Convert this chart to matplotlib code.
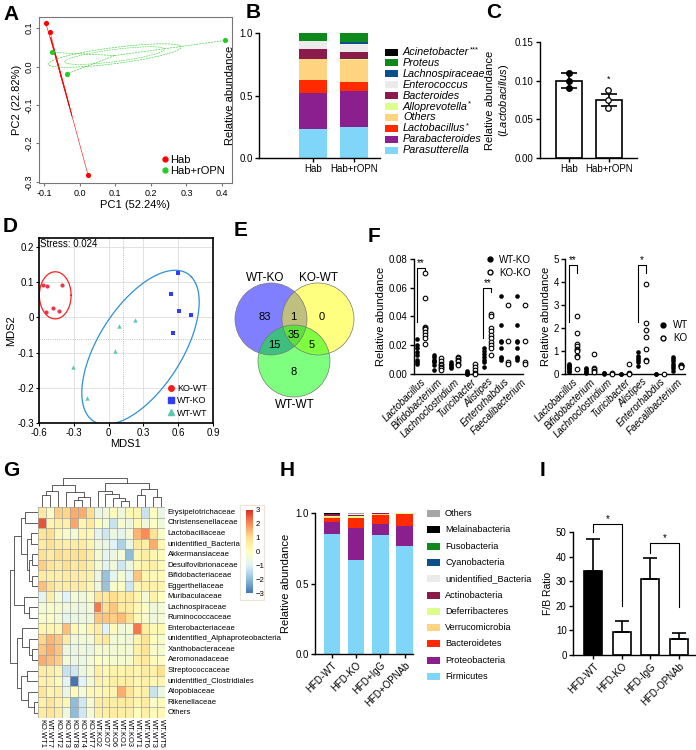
import numpy as np
import matplotlib
matplotlib.use("Agg")
import matplotlib.pyplot as plt
from matplotlib.patches import Circle, Rectangle
from matplotlib.lines import Line2D
from matplotlib.colors import LinearSegmentedColormap
from matplotlib.cm import ScalarMappable
from matplotlib.colors import Normalize

plt.rcParams['font.family'] = ['Liberation Sans', 'DejaVu Sans']
plt.rcParams['mathtext.fontset'] = 'custom'
plt.rcParams['mathtext.it'] = 'Liberation Sans:italic'
plt.rcParams['mathtext.rm'] = 'Liberation Sans'
plt.rcParams['font.size'] = 7

# ---------------- data ----------------
# A: PCoA
a_hab_x = [-0.095, -0.083, 0.024]
a_hab_y = [0.113, 0.090, -0.283]
a_ropn_x = [-0.078, -0.036, 0.409]
a_ropn_y = [0.037, -0.019, 0.068]

# B: genus composition (stack order bottom -> top)
b_groups = ['Hab', 'Hab+rOPN']
b_taxa = ['Parasutterella', 'Parabacteroides', 'Lactobacillus', 'Others', 'Alloprevotella',
          'Bacteroides', 'Enterococcus', 'Lachnospiraceae', 'Proteus', 'Acinetobacter']
b_stars = ['', '', '*', '', '*', '', '', '', '', '***']
b_hab = [0.230, 0.290, 0.105, 0.168, 0.002, 0.080, 0.060, 0.005, 0.058, 0.002]
b_ropn = [0.245, 0.290, 0.075, 0.178, 0.002, 0.060, 0.065, 0.010, 0.073, 0.002]
b_colors = ['#7fd6f8', '#8c1f8e', '#ff2a00', '#ffd480', '#dcff8c',
            '#8a1b4b', '#ebebeb', '#0b4f8c', '#0e8a1c', '#000000']

# C: Lactobacillus
c_groups = ['Hab', 'Hab+rOPN']
c_hab_pts = [0.110, 0.100, 0.091]
c_ropn_pts = [0.088, 0.075, 0.065]
c_means = [0.100, 0.075]
c_err = [0.010, 0.0076]

# D: NMDS
d_kowt_x = [-0.568, -0.534, -0.404, -0.482, -0.542, -0.425]
d_kowt_y = [0.093, 0.089, 0.093, 0.027, 0.015, 0.019]
d_wtko_x = [0.595, 0.540, 0.609, 0.710, 0.555]
d_wtko_y = [0.127, 0.066, 0.018, 0.006, -0.045]
d_wtwt_x = [0.090, 0.228, 0.055, -0.310, -0.184]
d_wtwt_y = [-0.024, -0.006, -0.094, -0.142, -0.230]

# E: Venn counts
e_sets = ['WT-KO', 'KO-WT', 'WT-WT']
e_counts = {'100': 83, '110': 1, '010': 0, '111': 35, '101': 15, '011': 5, '001': 8}

# F: genera
f_genera = ['Lactobacillus', 'Bifidobacterium', 'Lachnoclostridium', 'Turicibacter',
            'Alistipes', 'Enterorhabdus', 'Faecalibacterium']
f1_wtko = [[0.024, 0.020, 0.018, 0.015, 0.013, 0.010, 0.008, 0.007],
           [0.013, 0.012, 0.010, 0.009, 0.008, 0.006, 0.003],
           [0.008, 0.007, 0.006, 0.005, 0.004],
           [0.002, 0.001, 0.0005, 0.0002, 0.0],
           [0.018, 0.016, 0.014, 0.012, 0.010, 0.008, 0.005],
           [0.054, 0.034, 0.023, 0.022, 0.018, 0.012, 0.011, 0.010],
           [0.054, 0.034, 0.023, 0.022, 0.018, 0.012, 0.011, 0.010]]
f1_koko = [[0.070, 0.053, 0.033, 0.032, 0.031, 0.029, 0.027, 0.025, 0.021],
           [0.011, 0.009, 0.007, 0.006, 0.005, 0.004, 0.003],
           [0.012, 0.011, 0.010, 0.009, 0.007, 0.006],
           [0.007, 0.005, 0.003, 0.001, 0.0],
           [0.042, 0.040, 0.032, 0.030, 0.027, 0.025, 0.022, 0.020, 0.018, 0.013],
           [0.048, 0.023, 0.008, 0.007],
           [0.048, 0.023, 0.008, 0.007]]
f2_wt = [[0.45, 0.40, 0.35, 0.30, 0.25, 0.20, 0.15, 0.10],
         [0.25, 0.20, 0.15, 0.10, 0.05],
         [0.05, 0.03, 0.02],
         [0.02, 0.01],
         [0.95, 0.80, 0.70, 0.60, 0.50, 0.35],
         [0.02, 0.01],
         [0.75, 0.65, 0.55, 0.45, 0.35, 0.25, 0.15]]
f2_ko = [[2.50, 1.80, 1.30, 1.20, 1.10, 1.05, 1.00, 0.80, 0.75, 0.20],
         [0.85, 0.25, 0.20, 0.15, 0.10],
         [0.03, 0.02],
         [0.45, 0.05, 0.02],
         [3.90, 2.20, 1.90, 1.60, 1.10, 0.60, 0.55],
         [0.02],
         [0.40, 0.38, 0.35, 0.33, 0.30]]

# G: heatmap (z-scores)
g_rows = ['Erysipelotrichaceae', 'Christensenellaceae', 'Lactobacillaceae', 'unidentified_Bacteria',
          'Akkermansiaceae', 'Desulfovibrionaceae', 'Bifidobacteriaceae', 'Eggerthellaceae',
          'Muribaculaceae', 'Lachnospiraceae', 'Ruminococcaceae', 'Enterobacteriaceae',
          'unidentified_Alphaproteobacteria', 'Xanthobacteraceae', 'Aeromonadaceae',
          'Streptococcaceae', 'unidentified_Clostridiales', 'Atopobiaceae', 'Rikenellaceae', 'Others']
g_cols = ['KO.WT1', 'WT.WT7', 'KO.WT2', 'KO.WT3', 'KO.WT8', 'KO.WT4', 'KO.WT7', 'WT.KO2',
          'WT.KO7', 'WT.KO6', 'WT.KO1', 'WT.KO3', 'WT.WT1', 'WT.WT6', 'WT.WT3', 'WT.WT5']
g_vals = [
    [0.7, -0.2, 1.2, 1.1, 1.6, 1.6, 1.0, -0.6, -0.5, 0.1, -0.5, 0.2, 0.3, -1.3, 0.0, -0.7],
    [2.6, 0.3, 0.5, 0.4, 1.7, 0.3, 0.7, 0.0, -0.4, -1.3, -0.3, -0.6, 0.2, -0.5, -0.1, -0.5],
    [0.8, 1.0, 0.2, -0.2, -0.4, 0.3, 0.2, -0.8, -1.2, -0.6, -0.8, -0.4, 1.5, 2.0, 0.8, -0.2],
    [0.6, 0.9, 0.6, 0.5, 0.6, 0.6, 0.3, -0.5, -0.6, -1.0, -1.6, -0.7, 0.7, 0.5, 1.6, 0.2],
    [0.9, 0.6, 1.0, 0.8, 0.9, 0.9, 0.6, -0.3, -0.8, -0.6, -0.4, -2.0, 0.3, 0.5, 0.3, 0.1],
    [1.2, 0.8, 0.6, 0.9, 0.7, 0.8, 0.5, -0.3, -0.8, -0.5, -1.2, -0.6, 0.2, 0.4, 0.5, 0.1],
    [0.6, 0.5, 0.5, 0.6, 0.6, 0.5, 0.4, -0.6, -1.9, -0.8, -0.3, -0.9, 1.3, 0.3, 0.2, 0.1],
    [1.4, 0.9, 0.5, 0.6, 0.6, 0.6, 0.3, -0.5, -1.9, -0.2, -0.1, -1.2, 0.3, 0.4, 0.4, 0.3],
    [-0.8, 0.5, -0.4, -1.0, -0.4, -0.5, -0.2, 0.8, 0.7, 1.0, 0.6, 0.7, 0.3, -0.4, 0.4, 0.0],
    [-0.4, -0.2, -0.3, -0.5, -0.5, -0.6, -0.4, 2.2, 0.9, 1.3, 0.6, 0.6, 0.2, -0.1, -0.5, -0.4],
    [-0.2, -0.1, -0.4, -0.8, -0.6, -0.6, -0.5, 1.3, 1.3, 1.2, 1.4, 0.9, 0.2, -0.2, -0.5, -0.4],
    [0.3, 0.3, 0.3, 1.4, 0.2, -0.2, 0.3, 0.6, -1.0, 0.1, -0.5, -0.4, 2.2, 0.5, 0.2, 0.2],
    [1.1, 1.5, 1.3, 0.6, -0.5, -0.4, -0.4, 0.5, 0.7, -0.4, -0.4, -0.5, 0.3, 0.8, 0.0, -0.2],
    [1.3, 1.6, 1.3, -0.5, -0.7, -0.5, -0.7, -0.2, -0.3, -0.4, -0.3, -0.4, 0.4, 0.8, -0.2, -0.3],
    [1.6, 1.4, 1.2, -0.4, -0.6, -0.6, -0.4, 0.0, -0.2, -0.3, -0.3, -0.3, 0.4, 0.7, 0.1, -0.1],
    [0.6, 0.5, 0.3, -1.3, -1.2, -0.6, -0.3, 0.5, 0.2, 0.4, 0.3, 0.4, 0.3, 0.6, 0.4, 0.9],
    [0.4, 0.4, 0.1, -0.8, -3.0, -1.0, -0.4, 0.4, 0.3, 0.5, 0.5, 0.5, 0.3, 0.4, 0.2, 0.3],
    [0.8, 0.3, 0.5, -0.7, 0.1, -0.4, 0.2, 0.2, 0.3, 0.3, 1.6, 0.8, 0.3, 0.5, -1.3, -0.6],
    [0.4, 0.8, 0.4, 0.2, -2.0, -1.2, -0.3, 0.6, 0.6, 0.5, 0.6, 0.6, 0.3, 0.6, -0.2, 0.1],
    [0.6, 0.8, 0.6, -0.5, -2.0, -1.2, -0.4, 0.5, 0.5, 0.6, 0.5, 0.5, 0.0, 0.5, 0.1, 0.2],
]
# dendrograms: (left, right, height), leaves = row/column index
g_row_tree = ((((0, 1, 0.45), ((2, 3, 0.25), ((4, 5, 0.2), (6, 7, 0.2), 0.3), 0.4), 0.6),
               (8, (9, 10, 0.3), 0.5), 0.85),
              ((11, (12, (13, 14, 0.2), 0.3), 0.55),
               ((15, 16, 0.4), (17, (18, 19, 0.15), 0.35), 0.6), 0.75), 1.0)
g_col_tree = ((((0, 1, 0.4), 2, 0.55), (3, ((4, 5, 0.25), 6, 0.35), 0.5), 0.75),
              ((7, (8, (9, (10, 11, 0.2), 0.3), 0.45), 0.55),
               ((12, 13, 0.4), (14, 15, 0.35), 0.6), 0.8), 1.0)

# H: phylum composition (stack order bottom -> top)
h_groups = ['HFD-WT', 'HFD-KO', 'HFD+IgG', 'HFD+OPNAb']
h_taxa = ['Firmicutes', 'Proteobacteria', 'Bacteroidetes', 'Verrucomicrobia', 'Deferribacteres',
          'Actinobacteria', 'unidentified_Bacteria', 'Cyanobacteria', 'Fusobacteria',
          'Melainabacteria', 'Others']
h_vals = [[0.851, 0.669, 0.846, 0.768],
          [0.085, 0.225, 0.078, 0.137],
          [0.029, 0.071, 0.064, 0.088],
          [0.005, 0.003, 0.002, 0.003],
          [0.008, 0.012, 0.002, 0.001],
          [0.014, 0.008, 0.005, 0.001],
          [0.002, 0.004, 0.001, 0.000],
          [0.001, 0.002, 0.000, 0.000],
          [0.001, 0.001, 0.000, 0.000],
          [0.001, 0.001, 0.000, 0.000],
          [0.003, 0.004, 0.002, 0.002]]
h_colors = ['#7fd6f8', '#8c1f8e', '#ff2a00', '#ffd480', '#dcff8c', '#8a1b4b',
            '#ebebeb', '#0b4f8c', '#0e8a1c', '#000000', '#a6a6a6']

# I: F/B ratio
i_groups = ['HFD-WT', 'HFD-KO', 'HFD-IgG', 'HFD-OPNAb']
i_means = [34.3, 9.5, 30.7, 6.6]
i_err = [13.0, 4.5, 8.8, 2.3]

# ---------------- figure ----------------
W, H = 696, 750
fig = plt.figure(figsize=(W / 100, H / 100), dpi=100)
renderer = fig.canvas.get_renderer()


def box(x0, y0, x1, y1):
    return fig.add_axes([x0 / W, 1 - y1 / H, (x1 - x0) / W, (y1 - y0) / H])


def letter(x, y, s):
    fig.text(x / W, 1 - y / H, s, fontsize=15, fontweight='bold', va='center', ha='left')


def prism(ax, lw=1.0):
    ax.spines['top'].set_visible(False)
    ax.spines['right'].set_visible(False)
    ax.spines['left'].set_linewidth(lw)
    ax.spines['bottom'].set_linewidth(lw)
    ax.tick_params(width=lw, length=3, labelsize=7, pad=1.5)


def se_ellipse(x, y, scale):
    pts = np.column_stack([x, y])
    c = pts.mean(axis=0)
    cov = np.cov(pts.T) / len(x)
    vals, vecs = np.linalg.eigh(cov)
    t = np.linspace(0, 2 * np.pi, 200)
    circ = np.column_stack([np.cos(t), np.sin(t)]) * np.sqrt(np.maximum(vals, 1e-9)) * scale
    e = circ @ vecs.T + c
    return c, e


def legend_patch(x, y, color, label, fs=6.6, style='normal', stars=''):
    fig.add_artist(Rectangle((x / W, 1 - (y + 3.5) / H), 13 / W, 7 / H,
                             transform=fig.transFigure, facecolor=color, edgecolor='none'))
    t = fig.text((x + 18) / W, 1 - y / H, label, fontsize=fs, va='center', ha='left',
                 fontstyle=style)
    if stars:
        bb = t.get_window_extent(renderer)
        fig.text((bb.x1 + 0.5) / W, 1 - (y - 2.5) / H, stars, fontsize=5.5, va='center', ha='left')


# ---- A ----
axA = box(39, 17, 232, 183)
for xs, ys, col, ls, sc in [(a_hab_x, a_hab_y, '#ff0000', '-', 0.8),
                            (a_ropn_x, a_ropn_y, '#22cc22', '--', 1.2)]:
    c, e = se_ellipse(xs, ys, sc)
    axA.plot(e[:, 0], e[:, 1], color=col, lw=0.4, ls=ls)
    c2, e2 = se_ellipse(xs, ys, sc * 0.75)
    axA.plot(e2[:, 0], e2[:, 1], color=col, lw=0.35, ls=ls)
    for px, py in zip(xs, ys):
        axA.plot([c[0], px], [c[1], py], color=col, lw=0.4, ls=ls)
    axA.scatter(xs, ys, s=14, color=col, zorder=3, linewidths=0)
axA.set_xlim(-0.114, 0.428)
axA.set_ylim(-0.303, 0.129)
axA.set_xticks([-0.1, 0.0, 0.1, 0.2, 0.3, 0.4])
axA.set_xticklabels(['-0.1', '0.0', '0.1', '0.2', '0.3', '0.4'])
axA.set_yticks([-0.3, -0.2, -0.1, 0.0, 0.1])
axA.set_yticklabels(['-0.3', '-0.2', '-0.1', '0.0', '0.1'], rotation=90, va='center')
for s in axA.spines.values():
    s.set_color('#777777')
    s.set_linewidth(0.8)
axA.tick_params(labelsize=6.5, length=2.5, color='#777777', pad=1.5)
axA.set_xlabel('PC1 (52.24%)', fontsize=8, labelpad=2)
axA.set_ylabel('PC2 (22.82%)', fontsize=8, labelpad=2)
axA.legend(handles=[Line2D([], [], marker='o', ls='none', color='#ff0000', markersize=3.5, label='Hab'),
                    Line2D([], [], marker='o', ls='none', color='#22cc22', markersize=3.5, label='Hab+rOPN')],
           loc='lower right', frameon=False, fontsize=8, handletextpad=0.0, handlelength=1.0,
           borderaxespad=0.2, labelspacing=0.1)
letter(3, 14, 'A')

# ---- B ----
axB = box(259, 33, 380, 158)
bottom = np.zeros(2)
for name, col, hv, rv in zip(b_taxa, b_colors, b_hab, b_ropn):
    vals = np.array([hv, rv])
    axB.bar([0, 1], vals, bottom=bottom, width=0.68, color=col, linewidth=0)
    bottom += vals
axB.set_xlim(-1.32, 1.63)
axB.set_ylim(0, 1)
axB.set_yticks([0, 0.5, 1.0])
axB.set_yticklabels(['0.0', '0.5', '1.0'])
axB.set_xticks([0, 1])
axB.set_xticklabels(b_groups)
prism(axB)
axB.set_ylabel('Relative abundance', fontsize=8, labelpad=3)
for i, (name, col, st) in enumerate(zip(b_taxa[::-1], b_colors[::-1], b_stars[::-1])):
    legend_patch(385, 52 + i * 10.9, col, name, fs=7.8, style='italic', stars=st)
letter(246, 12, 'B')

# ---- C ----
axC = box(540, 42, 637, 158)
axC.bar([0, 1], c_means, width=0.65, color='white', edgecolor='black', linewidth=1.2, zorder=1)
axC.errorbar([0, 1], c_means, yerr=c_err, fmt='none', ecolor='black', elinewidth=1.2,
             capsize=6, capthick=1.2, zorder=2)
axC.scatter([0] * len(c_hab_pts), c_hab_pts, s=16, color='black', zorder=3)
axC.scatter([0.98] * len(c_ropn_pts), c_ropn_pts, s=16, facecolor='white', edgecolor='black',
            linewidths=0.9, zorder=3)
axC.text(1, 0.096, '*', ha='center', va='bottom', fontsize=6.5)
axC.set_xlim(-0.725, 1.7)
axC.set_ylim(0, 0.15)
axC.set_yticks([0, 0.05, 0.10, 0.15])
axC.set_yticklabels(['0.00', '0.05', '0.10', '0.15'])
axC.set_xticks([0, 1])
axC.set_xticklabels(c_groups)
prism(axC)
axC.set_ylabel('Relative abundance\n($\\mathit{Lactobacillus}$)', fontsize=8, labelpad=3)
letter(486, 12, 'C')

# ---- D ----
axD = box(39, 238, 213, 423)
axD.set_xlim(-0.6, 0.9)
axD.set_ylim(-0.3, 0.226)
axD.set_xticks([-0.6, -0.3, 0, 0.3, 0.6, 0.9])
axD.set_xticklabels(['-0.6', '-0.3', '0', '0.3', '0.6', '0.9'])
axD.set_yticks([-0.3, -0.2, -0.1, 0, 0.1, 0.2])
axD.set_yticklabels(['-0.3', '-0.2', '-0.1', '0', '0.1', '0.2'])
axD.grid(color='#dddddd', lw=0.6)
axD.set_axisbelow(True)
axD.axvline(0.124, color='#aaaaaa', lw=0.6, ls=':')
axD.axhline(-0.06, color='#aaaaaa', lw=0.6, ls=':')
t = np.linspace(0, 2 * np.pi, 300)
axD.plot(-0.46 + 0.137 * np.cos(t), 0.063 + 0.067 * np.sin(t), color='#ff2222', lw=0.9)
axD.plot(0.275 + 0.44 * np.cos(t) + 0.25 * np.sin(t), -0.085 + 0.20 * np.cos(t) - 0.09 * np.sin(t),
         color='#2f8fd8', lw=0.9)
axD.scatter(d_kowt_x, d_kowt_y, s=9, color='#e8364b', marker='o', linewidths=0, zorder=3)
axD.scatter(d_wtko_x, d_wtko_y, s=12, color='#2f3df5', marker='s', linewidths=0, zorder=3)
axD.scatter(d_wtwt_x, d_wtwt_y, s=10, color='#5cc8b2', marker='^', linewidths=0, zorder=3)
for s in axD.spines.values():
    s.set_linewidth(1.2)
axD.tick_params(labelsize=7, length=2, pad=1.5)
axD.set_xlabel('MDS1', fontsize=8, labelpad=1)
axD.set_ylabel('MDS2', fontsize=8, labelpad=1)
axD.text(-0.595, 0.222, 'Stress: 0.024', fontsize=7, va='top', ha='left')
axD.legend(handles=[Line2D([], [], marker='o', ls='none', color='#ff1a1a', markersize=4, label='KO-WT'),
                    Line2D([], [], marker='s', ls='none', color='#2f3df5', markersize=4, label='WT-KO'),
                    Line2D([], [], marker='^', ls='none', color='#5cc8b2', markersize=4, label='WT-WT')],
           loc='lower right', frameon=False, fontsize=6.5, handletextpad=0.2, handlelength=1.0,
           borderaxespad=0.2, labelspacing=0.35)
letter(3, 226, 'D')

# ---- E ----
axE = box(228, 262, 362, 420)
axE.set_xlim(228, 362)
axE.set_ylim(420, 262)
axE.axis('off')
e_centers = [(271, 319), (318, 319), (294, 361)]
e_cols = ['#0000ff', '#ffff00', '#00ff00']
for (cx, cy), col in zip(e_centers, e_cols):
    axE.add_patch(Circle((cx, cy), 36, facecolor=col, alpha=0.5, edgecolor='none'))
for (cx, cy) in e_centers:
    axE.add_patch(Circle((cx, cy), 36, facecolor='none', edgecolor='#777777', lw=0.5))
e_pos = {'100': (265, 317), '110': (293, 317), '010': (322, 317), '111': (294, 335),
         '101': (274, 345), '011': (312, 345), '001': (294, 372)}
for k, (x, y) in e_pos.items():
    axE.text(x, y, str(e_counts[k]), ha='center', va='center', fontsize=8)
axE.text(265, 278, e_sets[0], ha='center', va='center', fontsize=8.5)
axE.text(319, 278, e_sets[1], ha='center', va='center', fontsize=8.5)
axE.text(295, 405, e_sets[2], ha='center', va='center', fontsize=8.5)
letter(234, 230, 'E')

# ---- F ----
def f_panel(ax, filled, opened, off):
    for k in range(len(f_genera)):
        ax.scatter([k - off] * len(filled[k]), filled[k], s=11, color='black', linewidths=0,
                   zorder=3, clip_on=False)
        ax.scatter([k + off] * len(opened[k]), opened[k], s=11, facecolor='white',
                   edgecolor='black', linewidths=0.8, zorder=3, clip_on=False)
    ax.set_xticks(range(len(f_genera)))
    ax.set_xticklabels(f_genera, rotation=45, ha='right', rotation_mode='anchor',
                       fontstyle='italic', fontsize=6.5)
    prism(ax)
    ax.tick_params(axis='x', length=0, pad=2)


def bracket(ax, x0, x1, ytop, yl, yr, txt):
    ax.plot([x0, x0, x1, x1], [yl, ytop, ytop, yr], color='black', lw=0.8, clip_on=False)
    ax.text((x0 + x1) / 2, ytop, txt, ha='center', va='bottom', fontsize=7)


axF1 = box(414, 259, 523, 374)
f_panel(axF1, f1_wtko, f1_koko, 0.22)
axF1.set_xlim(-0.42, 6.12)
axF1.set_ylim(0, 0.08)
axF1.set_yticks([0, 0.02, 0.04, 0.06, 0.08])
axF1.set_yticklabels(['0.00', '0.02', '0.04', '0.06', '0.08'])
axF1.set_ylabel('Relative abundance', fontsize=8, labelpad=2)
bracket(axF1, -0.27, 0.22, 0.074, 0.036, 0.071, '**')
bracket(axF1, 3.73, 4.22, 0.0596, 0.025, 0.057, '**')
axF1.legend(handles=[Line2D([], [], marker='o', ls='none', color='black', markersize=3.5, label='WT-KO'),
                     Line2D([], [], marker='o', ls='none', markerfacecolor='white', markeredgecolor='black',
                            markersize=3.5, label='KO-KO')],
            loc='upper left', bbox_to_anchor=(0.62, 1.07), frameon=False, fontsize=7,
            handletextpad=0.4, handlelength=1.0, borderaxespad=0, labelspacing=0.3)

axF2 = box(565, 259, 685, 374)
f_panel(axF2, f2_wt, f2_ko, 0.23)
axF2.set_xlim(-0.46, 6.47)
axF2.set_ylim(0, 5)
axF2.set_yticks([0, 1, 2, 3, 4, 5])
axF2.set_ylabel('Relative abundance', fontsize=8, labelpad=2)
bracket(axF2, -0.23, 0.23, 4.74, 2.27, 4.38, '**')
bracket(axF2, 3.77, 4.23, 4.74, 2.27, 4.38, '*')
axF2.legend(handles=[Line2D([], [], marker='o', ls='none', color='black', markersize=3.5, label='WT'),
                     Line2D([], [], marker='o', ls='none', markerfacecolor='white', markeredgecolor='black',
                            markersize=3.5, label='KO')],
            loc='upper left', bbox_to_anchor=(0.74, 0.5), frameon=False, fontsize=7,
            handletextpad=0.6, handlelength=1.0, borderaxespad=0, labelspacing=0.3)
letter(368, 237, 'F')

# ---- G ----
cmap = LinearSegmentedColormap.from_list(
    'rdylbu_r', ['#4575b4', '#91bfdb', '#e0f3f8', '#ffffbf', '#fee090', '#fc8d59', '#d73027'])
axG = box(38, 507, 165, 718)
gv = np.array(g_vals)
axG.imshow(gv, cmap=cmap, vmin=-3, vmax=3, aspect='auto', interpolation='nearest')
for i in range(gv.shape[1] + 1):
    axG.axvline(i - 0.5, color='#a0a0a0', lw=0.5)
for j in range(gv.shape[0] + 1):
    axG.axhline(j - 0.5, color='#a0a0a0', lw=0.5)
axG.set_xticks([])
axG.set_yticks([])
for s in axG.spines.values():
    s.set_visible(False)
for j, name in enumerate(g_rows):
    axG.text(gv.shape[1] - 0.5 + 0.35, j, name, ha='left', va='center', fontsize=5.6)
for i, name in enumerate(g_cols):
    axG.text(i, gv.shape[0] - 0.5 + 0.1, name, ha='center', va='top', rotation=270, fontsize=5.4)


def draw_tree(ax, node, orient):
    if isinstance(node, int):
        return node, 0.0
    l, r, h = node
    pl, hl = draw_tree(ax, l, orient)
    pr, hr = draw_tree(ax, r, orient)
    if orient == 'top':
        ax.plot([pl, pl, pr, pr], [hl, h, h, hr], color='#444444', lw=0.6)
    else:
        ax.plot([hl, h, h, hr], [pl, pl, pr, pr], color='#444444', lw=0.6)
    return (pl + pr) / 2, h


axRD = box(9, 507, 38, 718)
draw_tree(axRD, g_row_tree, 'left')
axRD.set_ylim(gv.shape[0] - 0.5, -0.5)
axRD.set_xlim(1.02, 0)
axRD.axis('off')
axCD = box(38, 477, 165, 507)
draw_tree(axCD, g_col_tree, 'top')
axCD.set_xlim(-0.5, gv.shape[1] - 0.5)
axCD.set_ylim(0, 1.02)
axCD.axis('off')
fig.add_artist(Rectangle((240 / W, 1 - 600 / H), 24 / W, 95 / H, transform=fig.transFigure,
                         facecolor='none', edgecolor='#eee4d4', lw=0.8))
axCB = box(246, 510, 253, 593)
cb = fig.colorbar(ScalarMappable(norm=Normalize(-3, 3), cmap=cmap), cax=axCB, ticks=[-3, -2, -1, 0, 1, 2, 3])
cb.outline.set_visible(False)
axCB.tick_params(labelsize=5.6, length=0, pad=2)
letter(3, 471, 'G')

# ---- H ----
axH = box(315, 513, 413, 654)
bottom = np.zeros(len(h_groups))
for name, col, vals in zip(h_taxa, h_colors, h_vals):
    vals = np.array(vals)
    axH.bar(range(len(h_groups)), vals, bottom=bottom, width=0.68, color=col, linewidth=0)
    bottom += vals
axH.set_xlim(-0.7, 3.35)
axH.set_ylim(0, 1)
axH.set_yticks([0, 0.5, 1.0])
axH.set_yticklabels(['0.0', '0.5', '1.0'])
axH.set_xticks(range(len(h_groups)))
axH.set_xticklabels(h_groups, rotation=45, ha='right', rotation_mode='anchor')
prism(axH)
axH.set_ylabel('Relative abundance', fontsize=8, labelpad=3)
for i, (name, col) in enumerate(zip(h_taxa[::-1], h_colors[::-1])):
    legend_patch(427, 513.5 + i * 16.3, col, name, fs=6.6)
letter(280, 471, 'H')

# ---- I ----
axI = box(573, 532, 696, 655)
axI.bar(range(4), i_means, width=0.64, color=['black', 'white', 'white', 'white'],
        edgecolor='black', linewidth=1.2)
axI.errorbar(range(4), i_means, yerr=[np.zeros(4), i_err], fmt='none', ecolor='black',
             elinewidth=1.2, capsize=5, capthick=1.2)
axI.set_xlim(-0.71, 3.6)
axI.set_ylim(0, 50)
axI.set_yticks([0, 10, 20, 30, 40, 50])
axI.set_xticks(range(4))
axI.set_xticklabels(i_groups, rotation=45, ha='right', rotation_mode='anchor')
prism(axI)
axI.set_ylabel('F/B Ratio', fontsize=7.5, labelpad=2)
bracket(axI, 0, 1, 53.3, 50.0, 20.0, '*')
bracket(axI, 2, 3, 45.5, 41.5, 19.5, '*')
letter(540, 471, 'I')

fig.savefig('out.png', dpi=100)
